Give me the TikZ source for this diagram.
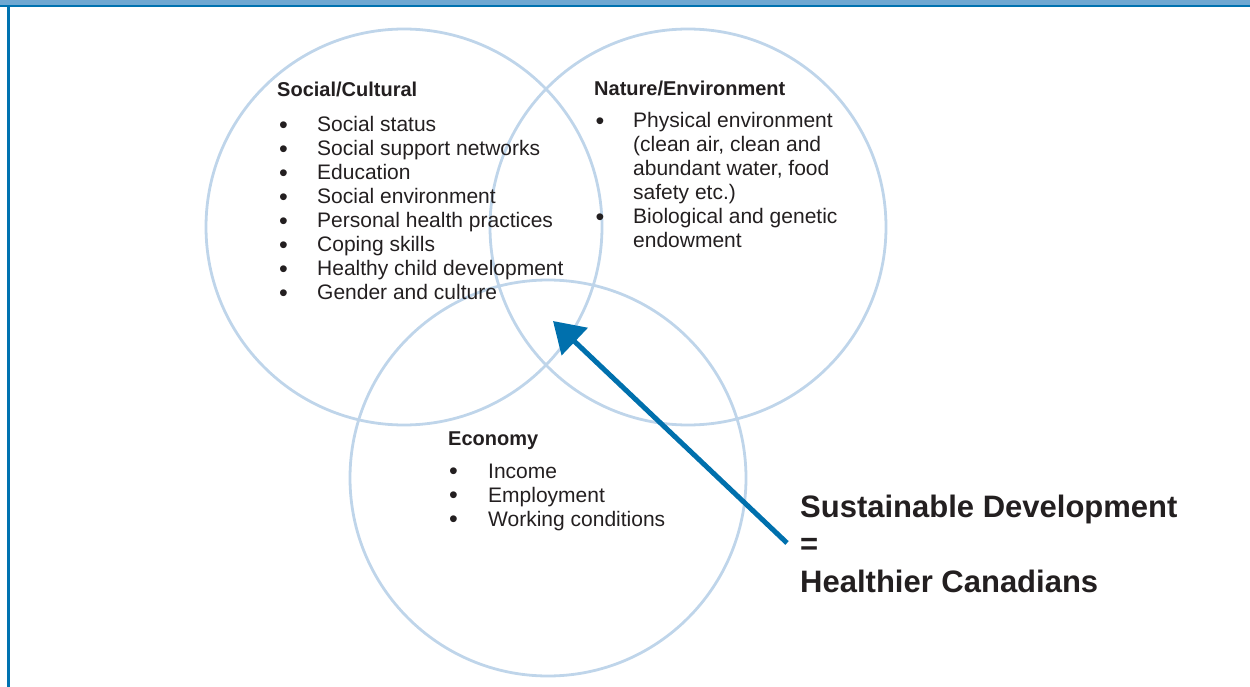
\documentclass[tikz,border=0pt]{standalone}
\usepackage{fontspec}
\setmainfont{Liberation Sans}
\usetikzlibrary{positioning,arrows.meta}

\definecolor{framelight}{HTML}{6FA8D2}
\definecolor{framedark}{HTML}{0072B0}
\definecolor{ringblue}{HTML}{BFD5EA}
\definecolor{arrowblue}{HTML}{0070AD}
\definecolor{inkgray}{HTML}{231F20}

\newcommand{\itemsize}{\fontsize{21}{24}\selectfont}
\newcommand{\dotmark}{\raisebox{-0.12ex}{\fontsize{25}{24}\selectfont\textbullet}}

\begin{document}
\begin{tikzpicture}[
      x=1pt, y=-1pt,
      >={Triangle[length=30pt,width=37pt]},
      auto
    ]

    \tikzstyle{ring} = [circle, draw=ringblue, line width=2.8pt, minimum size=396pt, inner sep=0pt]
    \tikzstyle{heading} = [anchor=base west, inner sep=0pt, text=inkgray, font=\bfseries\fontsize{20}{22}\selectfont]
    \tikzstyle{itemlist} = [anchor=base west, inner sep=0pt, text=inkgray, font=\itemsize]
    \tikzstyle{slogan} = [anchor=base west, inner sep=0pt, text=inkgray, font=\bfseries\fontsize{31}{37.5}\selectfont]

    \useasboundingbox (0,0) rectangle (1250,687);

    % frame
    \fill [framelight] (0,0) rectangle (1250,5);
    \fill [framedark] (0,5) rectangle (1250,7);
    \fill [framedark] (7,5) rectangle (9.5,687);

    % the three circles
    \node [ring] (social) at (404,227) {};
    \node [ring] (nature) at (688,227) {};
    \node [ring] (economy) at (548,478) {};

    \node [heading] (socialhead) at (277,97) {Social/Cultural};
    \node [itemlist] (sociallist) at (279,132) {
    	\begin{tabular}[t]{@{}p{38pt}@{}l@{}}
    	\dotmark & Social status\\
    	\dotmark & Social support networks\\
    	\dotmark & Education\\
    	\dotmark & Social environment\\
    	\dotmark & Personal health practices\\
    	\dotmark & Coping skills\\
    	\dotmark & Healthy child development\\
    	\dotmark & Gender and culture
    	\end{tabular}
        };

    \node [heading] (naturehead) at (594,96) {Nature/Environment};
    \node [itemlist] (naturelist) at (595.5,128) {
    	\begin{tabular}[t]{@{}p{37.5pt}@{}l@{}}
    	\dotmark & Physical environment\\
    	         & (clean air, clean and\\
    	         & abundant water, food\\
    	         & safety etc.)\\
    	\dotmark & Biological and genetic\\
    	         & endowment
    	\end{tabular}
        };

    \node [heading] (economyhead) at (448,445) {Economy};
    \node [itemlist] (economylist) at (449,478) {
    	\begin{tabular}[t]{@{}p{39pt}@{}l@{}}
    	\dotmark & Income\\
    	\dotmark & Employment\\
    	\dotmark & Working conditions
    	\end{tabular}
        };

    \node [slogan] (sustain) at (800,517) {Sustainable Development};
    \node [slogan] (equals) at (800,554.5) {=};
    \node [slogan] (healthier) at (800,592) {Healthier Canadians};

    \coordinate (tail) at (787,543);
    \coordinate (tip) at (553,321);
    \draw [->, arrowblue, line width=5pt] (tail) -- (tip);

\end{tikzpicture}
\end{document}
